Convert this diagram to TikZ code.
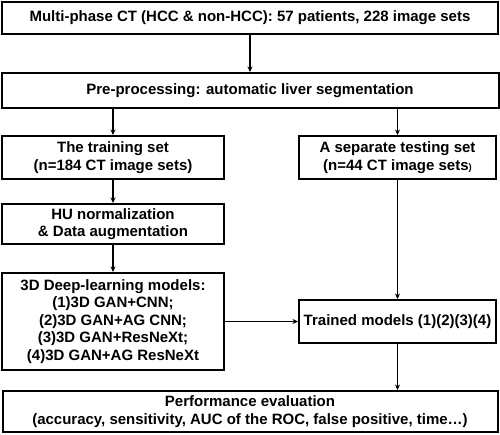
\documentclass[tikz,border=0pt]{standalone}
\usepackage{fontspec}
\setmainfont{Liberation Sans}
\usepackage{tikz}
\usetikzlibrary{arrows.meta, positioning, calc}

\begin{document}
\begin{tikzpicture}[
    x=1pt, y=-1pt,
    every node/.style={align=center, font=\bfseries\fontsize{15}{17.5}\selectfont},
    stage/.style={rectangle, draw=black, line width=2pt, fill=white, inner sep=0pt},
    arrow/.style={-{Stealth[length=5.5pt, width=5pt]}, black, line width=1.1pt}
]
\useasboundingbox (0,0) rectangle (500,434);

% Nodes
\node[stage, minimum width=496pt, minimum height=32pt] (cohort) at (250,18) {Multi-phase CT (HCC \& non-HCC): 57 patients, 228 image sets};
\node[stage, minimum width=497pt, minimum height=35pt] (prep) at (250,90.5) {Pre-processing: automatic liver segmentation};
\node[stage, minimum width=222pt, minimum height=43pt] (train) at (113,157.5) {The training set\\(n=184 CT image sets)};
\node[stage, minimum width=197pt, minimum height=43pt] (test) at (397.5,157.5) {A separate testing set\\(n=44 CT image sets{\fontsize{9.5}{10}\selectfont )}};
\node[stage, minimum width=222pt, minimum height=40pt] (norm) at (113,224) {HU normalization\\\& Data augmentation};
\node[stage, minimum width=222pt, minimum height=97pt] (models) at (113,321.5) {3D Deep-learning models:\\(1)3D GAN+CNN;\\(2)3D GAN+AG CNN;\\(3)3D GAN+ResNeXt;\\(4)3D GAN+AG ResNeXt};
\node[stage, minimum width=197pt, minimum height=43pt] (trained) at (397.5,321.5) {Trained models (1)(2)(3)(4)};
\node[stage, minimum width=495pt, minimum height=41pt] (perf) at (250,411.5) {Performance evaluation\\(accuracy, sensitivity, AUC of the ROC, false positive, time\ldots)};

% Arrows
\draw[arrow] (cohort) -- (prep);
\draw[arrow] (train.north |- prep.south) -- (train.north);
\draw[arrow] (test.north |- prep.south) -- (test.north);
\draw[arrow] (train) -- (norm);
\draw[arrow] (norm) -- (models);
\draw[arrow] (test) -- (trained);
\draw[arrow] (models.east |- trained.west) -- (trained.west);
\draw[arrow] (trained) -- (trained.south |- perf.north);

\end{tikzpicture}
\end{document}
